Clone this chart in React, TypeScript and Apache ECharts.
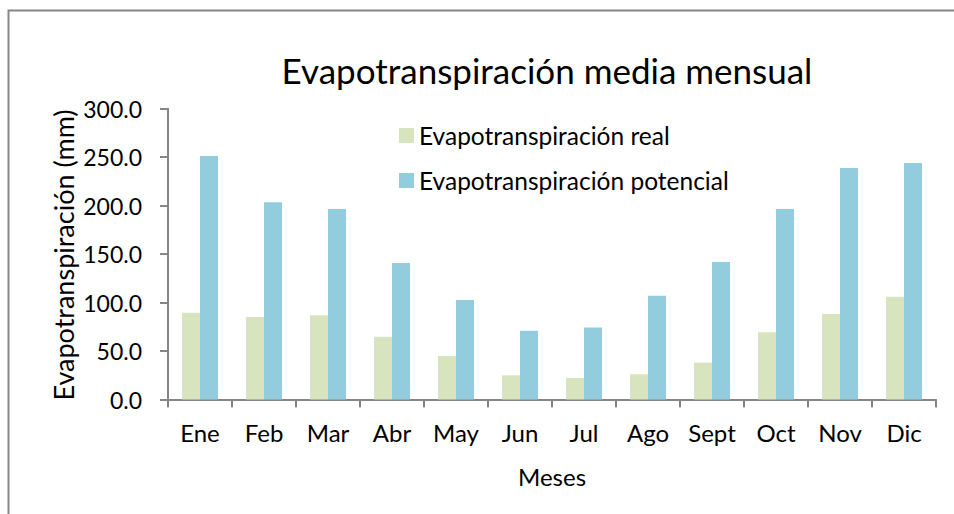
import React, { useEffect, useRef } from "react";
import * as echarts from "echarts";

const months = ["Ene", "Feb", "Mar", "Abr", "May", "Jun", "Jul", "Ago", "Sept", "Oct", "Nov", "Dic"];
const etReal = [89.5, 85.0, 86.8, 64.7, 44.8, 24.9, 22.2, 26.0, 38.0, 69.3, 88.1, 106.0];
const etPotencial = [251.3, 203.6, 196.4, 140.7, 102.6, 70.9, 74.4, 107.0, 141.8, 196.4, 238.7, 244.0];
const seriesNames = ["Evapotranspiración real", "Evapotranspiración potencial"];
const titleText = "Evapotranspiración media mensual";
const yAxisTitle = "Evapotranspiración (mm)";
const xAxisTitle = "Meses";

const FONT = "Lato";
const AXIS_GRAY = "#868686";

export default function App() {
  const ref = useRef<HTMLDivElement>(null);
  useEffect(() => {
    if (!ref.current) return;
    const chart = echarts.init(ref.current, undefined, { renderer: "svg" });
    chart.setOption({
      animation: false,
      backgroundColor: "#ffffff",
      textStyle: { fontFamily: FONT, color: "#000000" },
      grid: { left: 168, right: 18, top: 108.7, bottom: 114.5, containLabel: false },
      legend: {
        orient: "vertical",
        left: 394,
        top: 118,
        itemWidth: 15,
        itemHeight: 15,
        itemGap: 20,
        icon: "rect",
        textStyle: { fontFamily: FONT, fontSize: 24.5, color: "#000000" },
        data: seriesNames,
      },
      xAxis: {
        type: "category",
        data: months,
        axisLine: { show: true, lineStyle: { color: AXIS_GRAY, width: 2 } },
        axisTick: { show: true, alignWithLabel: false, length: 8, lineStyle: { color: AXIS_GRAY, width: 2 } },
        axisLabel: { fontFamily: FONT, fontSize: 24, color: "#000000", margin: 21 },
        splitLine: { show: false },
      },
      yAxis: {
        type: "value",
        min: 0,
        max: 300,
        interval: 50,
        axisLine: { show: true, lineStyle: { color: AXIS_GRAY, width: 2 } },
        axisTick: { show: true, length: 8, lineStyle: { color: AXIS_GRAY, width: 2 } },
        axisLabel: {
          fontFamily: FONT,
          fontSize: 23,
          color: "#000000",
          margin: 26,
          formatter: (v: number) => v.toFixed(1),
        },
        splitLine: { show: false },
      },
      series: [
        {
          name: seriesNames[0],
          type: "bar",
          data: etReal,
          barWidth: 18,
          barGap: "0%",
          itemStyle: { color: "#D7E4BD" },
        },
        {
          name: seriesNames[1],
          type: "bar",
          data: etPotencial,
          barWidth: 18,
          barGap: "0%",
          itemStyle: { color: "#93CDDD" },
        },
      ],
      graphic: [
        {
          type: "rect",
          shape: { x: 8.5, y: 10.5, width: 1200, height: 1200 },
          style: { fill: "none", stroke: AXIS_GRAY, lineWidth: 2 },
          silent: true,
        },
        {
          type: "text",
          x: 547,
          y: 70,
          style: {
            text: titleText,
            fontFamily: FONT,
            fontSize: 35,
            fill: "#000000",
            align: "center",
            verticalAlign: "middle",
          },
        },
        {
          type: "text",
          x: 63,
          y: 255,
          rotation: Math.PI / 2,
          style: {
            text: yAxisTitle,
            fontFamily: FONT,
            fontSize: 27,
            fill: "#000000",
            align: "center",
            verticalAlign: "middle",
          },
        },
        {
          type: "text",
          x: 552,
          y: 476,
          style: {
            text: xAxisTitle,
            fontFamily: FONT,
            fontSize: 24,
            fill: "#000000",
            align: "center",
            verticalAlign: "middle",
          },
        },
      ],
    });
    return () => chart.dispose();
  }, []);
  return (
    <div
      ref={ref}
      style={{ position: "fixed", left: 0, top: 0, width: 954, height: 514 }}
    />
  );
}
